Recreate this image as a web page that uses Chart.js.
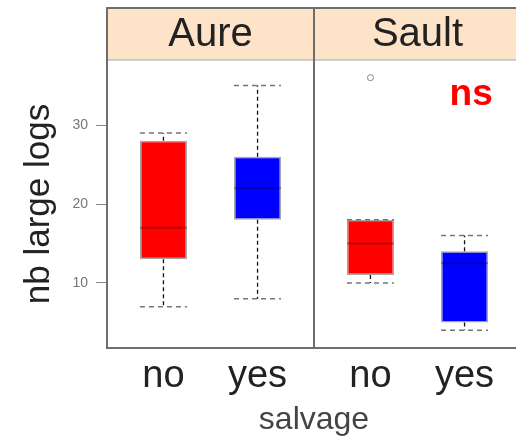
<!DOCTYPE html>
<html>
<head>
<meta charset="utf-8">
<script src="https://cdn.jsdelivr.net/npm/chart.js@4/dist/chart.umd.min.js"></script>
<style>
html, body { margin: 0; padding: 0; background: #fff; overflow: hidden; }
#wrap { width: 516px; height: 439px; overflow: hidden; }
</style>
</head>
<body>
<div id="wrap"><canvas id="bw" width="530" height="439"></canvas></div>
<script>
// panels and levels of the factor
const panels = ['Aure', 'Sault'];
const levels = ['no', 'yes'];

// five number summaries, one entry per box (Aure no, Aure yes, Sault no, Sault yes)
const mins    = [7, 8, 10, 4];
const q1s     = [13, 18, 11, 5];
const medians = [17, 22, 15, 12.5];
const q3s     = [28, 26, 18, 14];
const maxs    = [29, 35, 18, 16];
const outliers = [[], [], [36], []];

const yTicks = [10, 20, 30];
const boxColors = ['#ff0000', '#0000ff'];

const panelSpan = levels.length + 0.2;   // lattice: 0.4 .. n+0.6
const halfBox = 0.25;
const font = '"Liberation Sans", Arial, sans-serif';

// x positions / labels for every box
let xPos = [], tickLabels = [], fills = [];
panels.forEach((p, pi) => {
    levels.forEach((l, li) => {
        xPos.push(pi * panelSpan + li + 1);
        tickLabels.push(l);
        fills.push(boxColors[li]);
    });
});

// y limits like lattice (7% extension)
let allVals = [...mins, ...maxs, ...outliers.flat()];
let lo = Math.min(...allVals), hi = Math.max(...allVals);
const yMin = lo - 0.07 * (hi - lo), yMax = hi + 0.07 * (hi - lo);

// segments (null y breaks the line)
let whiskers = [], caps = [], meds = [], outPts = [];
xPos.forEach((x, i) => {
    whiskers.push({x: x, y: q3s[i]}, {x: x, y: maxs[i]}, {x: x, y: null});
    whiskers.push({x: x, y: q1s[i]}, {x: x, y: mins[i]}, {x: x, y: null});
    caps.push({x: x - halfBox, y: maxs[i]}, {x: x + halfBox, y: maxs[i]}, {x: x, y: null});
    caps.push({x: x - halfBox, y: mins[i]}, {x: x + halfBox, y: mins[i]}, {x: x, y: null});
    meds.push({x: x - halfBox, y: medians[i]}, {x: x + halfBox, y: medians[i]}, {x: x, y: null});
    outliers[i].forEach(v => outPts.push({x: x, y: v}));
});

const note = {text: 'ns', x: 4.27, y: 33.8};

const panelPlugin = {
    id: 'panels',
    afterDraw(chart) {
        const ctx = chart.ctx, a = chart.chartArea, xs = chart.scales.x, ys = chart.scales.y;
        const stripTop = 8;
        ctx.save();
        ctx.fillStyle = '#fde3c8';
        ctx.fillRect(a.left, stripTop, a.right - a.left, a.top - stripTop);
        ctx.strokeStyle = '#a8a8a8';
        ctx.lineWidth = 1;
        ctx.beginPath();
        ctx.moveTo(a.left, a.top);
        ctx.lineTo(a.right, a.top);
        ctx.stroke();
        ctx.strokeStyle = '#6e6e6e';
        ctx.lineWidth = 2;
        ctx.strokeRect(a.left, stripTop, a.right - a.left, a.bottom - stripTop);
        ctx.textAlign = 'center';
        ctx.textBaseline = 'middle';
        panels.forEach((name, p) => {
            if (p > 0) {
                let xb = xs.getPixelForValue(p * panelSpan + 0.4);
                ctx.beginPath();
                ctx.moveTo(xb, stripTop);
                ctx.lineTo(xb, a.bottom);
                ctx.stroke();
            }
            ctx.fillStyle = '#222';
            ctx.font = '40px ' + font;
            ctx.fillText(name, xs.getPixelForValue(p * panelSpan + 0.4 + panelSpan / 2), (stripTop + a.top) / 2 + 1);
        });
        ctx.fillStyle = '#ff0000';
        ctx.font = 'bold 37px ' + font;
        ctx.fillText(note.text, xs.getPixelForValue(note.x), ys.getPixelForValue(note.y));
        ctx.restore();
    }
};

function prepareChart() {
    var ctx = document.getElementById('bw').getContext('2d');
    window.chart = new Chart(ctx, {
        type: 'bar',
        data: {
            datasets: [{
                type: 'bar',
                data: xPos.map((x, i) => ({x: x, y: [q1s[i], q3s[i]]})),
                backgroundColor: fills,
                borderColor: 'rgba(0,0,0,0.35)',
                borderWidth: 1.5,
                borderSkipped: false,
                categoryPercentage: 1,
                barPercentage: 0.5,
                order: 3
            }, {
                type: 'line',
                data: whiskers,
                borderColor: '#111',
                borderWidth: 1.3,
                borderDash: [4, 3],
                pointRadius: 0,
                spanGaps: false,
                order: 2
            }, {
                type: 'line',
                data: caps,
                borderColor: '#777',
                borderWidth: 1.5,
                borderDash: [5, 4],
                pointRadius: 0,
                spanGaps: false,
                order: 2
            }, {
                type: 'line',
                data: meds,
                borderColor: 'rgba(0,0,0,0.3)',
                borderWidth: 2,
                pointRadius: 0,
                spanGaps: false,
                order: 1
            }, {
                type: 'scatter',
                data: outPts,
                pointStyle: 'circle',
                pointRadius: 3,
                borderColor: '#888',
                borderWidth: 1,
                backgroundColor: 'rgba(0,0,0,0)',
                order: 0
            }]
        },
        options: {
            responsive: false,
            animation: false,
            layout: {padding: {left: 0, right: 9, top: 60, bottom: 0}},
            plugins: {legend: {display: false}, tooltip: {enabled: false}},
            scales: {
                x: {
                    type: 'linear',
                    offset: false,
                    min: 0.4,
                    max: 0.4 + panels.length * panelSpan,
                    afterBuildTicks: ax => { ax.ticks = xPos.map(v => ({value: v})); },
                    afterFit: ax => { ax.height = 91; },
                    grid: {display: false, drawTicks: false, offset: false},
                    border: {display: false},
                    ticks: {
                        callback: (v, i) => tickLabels[i],
                        autoSkip: false,
                        maxRotation: 0,
                        padding: 6,
                        color: '#222',
                        font: {size: 38, family: font}
                    },
                    title: {
                        display: true,
                        text: 'salvage',
                        color: '#444',
                        font: {size: 32, family: font},
                        padding: {top: 0, bottom: 0}
                    }
                },
                y: {
                    min: yMin,
                    max: yMax,
                    afterBuildTicks: ax => { ax.ticks = yTicks.map(v => ({value: v})); },
                    afterFit: ax => { ax.width = 107; },
                    grid: {drawOnChartArea: false, tickLength: 11, color: '#888'},
                    border: {display: false},
                    ticks: {padding: 8, color: '#777', font: {size: 14, family: font}},
                    title: {
                        display: true,
                        text: 'nb large logs',
                        color: '#222',
                        font: {size: 35, family: font},
                        padding: {top: 18, bottom: 0}
                    }
                }
            }
        },
        plugins: [panelPlugin]
    });
}

prepareChart();
</script>
</body>
</html>
